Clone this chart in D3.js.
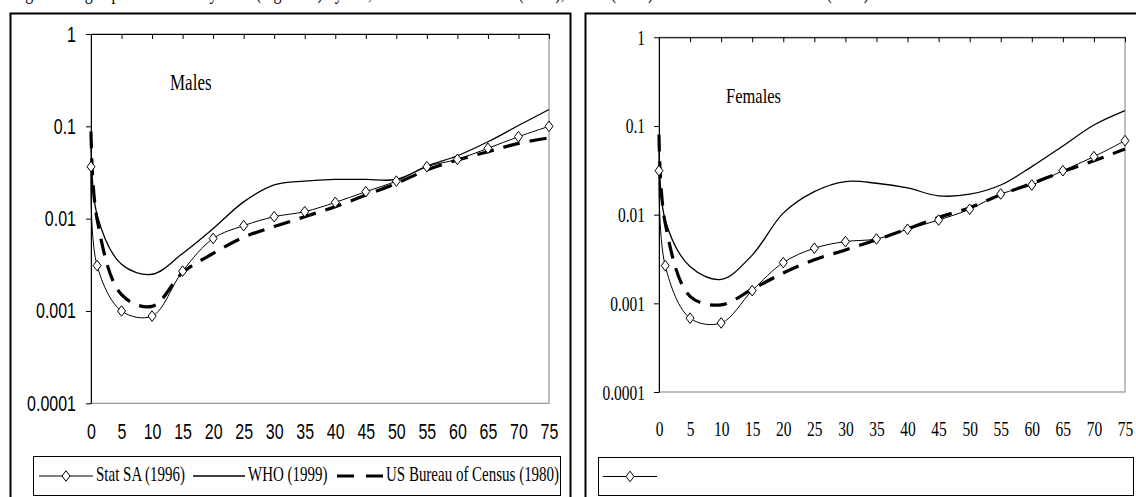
<!DOCTYPE html>
<html>
<head>
<meta charset="utf-8">
<script src="https://cdn.jsdelivr.net/npm/d3@7"></script>
<style>
  html, body { margin: 0; padding: 0; background: #fff; }
  svg { display: block; }
</style>
</head>
<body>
<svg id="chart" width="1136" height="497"></svg>
<script>
// ===== Data =====
const ages = [0, 1, 5, 10, 15, 20, 25, 30, 35, 40, 45, 50, 55, 60, 65, 70, 75];

const maleStatSA = [0.0365, 0.0031, 0.0010, 0.00088, 0.0027, 0.0061, 0.0084, 0.0105, 0.0119, 0.0150, 0.0196, 0.0255, 0.0365, 0.0439, 0.0578, 0.0772, 0.100];
const maleWHO    = [0.075, 0.011, 0.0032, 0.0025, 0.0042, 0.0078, 0.0152, 0.0232, 0.0255, 0.0266, 0.0266, 0.0266, 0.037, 0.048, 0.068, 0.102, 0.152];
const maleUS     = [0.088, 0.0098, 0.0015, 0.00112, 0.0026, 0.0042, 0.0063, 0.0082, 0.0105, 0.0135, 0.018, 0.0241, 0.0336, 0.0432, 0.053, 0.0654, 0.075];

const femaleStatSA = [0.0313, 0.00266, 0.00068, 0.00060, 0.00139, 0.00288, 0.00418, 0.00497, 0.00532, 0.00684, 0.0087, 0.0115, 0.0171, 0.0216, 0.0313, 0.0451, 0.0683];
const femaleWHO    = [0.07, 0.0087, 0.0026, 0.00186, 0.0035, 0.0104, 0.0182, 0.0236, 0.0226, 0.0200, 0.0163, 0.0170, 0.0216, 0.0348, 0.0595, 0.1026, 0.149];
const femaleUS     = [0.08, 0.008, 0.0012, 0.00096, 0.00144, 0.0022, 0.0031, 0.004, 0.0052, 0.0069, 0.0093, 0.012, 0.0168, 0.0225, 0.0305, 0.0405, 0.055];

const xTicks = [0, 5, 10, 15, 20, 25, 30, 35, 40, 45, 50, 55, 60, 65, 70, 75];
const yTicks = [0.0001, 0.001, 0.01, 0.1, 1];
const yTickLabels = ["0.0001", "0.001", "0.01", "0.1", "1"];

const seriesNames = ["Stat SA (1996)", "WHO (1999)", "US Bureau of Census (1980)"];
const caption = "Figure 4: Age-specific mortality rates (log scale) by sex, South Africa: Stat SA (1996), WHO (1999) and US Bureau of Census (1980)";

const STRETCH = 1.33;   // the picture is taller than wide, text too
const serif = "'Liberation Serif', 'Times New Roman', serif";
const sans = "'Liberation Sans', Arial, sans-serif";

const svg = d3.select("#chart");

// caption, cut by the top of the page (only the descenders show)
svg.append("text")
    .attr("transform", `translate(12,-1.5) scale(1,${STRETCH})`)
    .style("font-family", serif)
    .style("font-size", "16px")
    .text(caption);

const diamond = "M0,-5.3L4,0L0,5.3L-4,0Z";

function drawPanel(opt){
    const g = svg.append("g");

    // outer frame
    g.append("rect")
        .attr("x", opt.frame[0]).attr("y", opt.frame[1])
        .attr("width", opt.frame[2]).attr("height", opt.frame[3])
        .attr("fill", "none").attr("stroke", "#000").attr("stroke-width", 2);

    const x = d3.scaleLinear().domain([0, 75]).range([opt.left, opt.right]);
    const y = d3.scaleLog().domain([0.0001, 1]).range([opt.bottom, opt.top]);

    // plot area border (grey right/bottom)
    g.append("rect")
        .attr("x", opt.left).attr("y", opt.top)
        .attr("width", opt.right - opt.left).attr("height", opt.bottom - opt.top)
        .attr("fill", "none").attr("stroke", "#808080").attr("stroke-width", 1);

    // top axis line with ticks pointing down
    g.append("g")
        .attr("transform", `translate(0,${opt.top})`)
        .call(d3.axisBottom(x).tickValues(xTicks).tickSize(5).tickSizeOuter(0).tickFormat(""))
        .call(a => a.selectAll("line,path").attr("stroke", "#000"));

    // x labels at the bottom
    g.append("g")
        .attr("transform", `translate(0,${opt.bottom})`)
        .call(d3.axisBottom(x).tickValues(xTicks).tickSize(0).tickFormat(d => d))
        .call(a => a.select(".domain").remove())
        .call(a => a.selectAll("text")
            .attr("y", null).attr("dy", null)
            .attr("transform", `translate(0,${opt.xLabelBase}) scale(1,${STRETCH})`)
            .style("font-family", opt.tickFont)
            .style("font-size", opt.tickSize)
            .attr("fill", "#000"));

    // y axis
    g.append("g")
        .attr("transform", `translate(${opt.left},0)`)
        .call(d3.axisLeft(y).tickValues(yTicks).tickSize(5).tickSizeOuter(0)
            .tickFormat((d, i) => yTickLabels[i]))
        .call(a => a.selectAll("line,path").attr("stroke", "#000"))
        .call(a => a.selectAll("text")
            .attr("x", null).attr("dy", null)
            .attr("transform", `translate(${opt.yLabelX},7) scale(1,${STRETCH})`)
            .style("font-family", opt.tickFont)
            .style("font-size", opt.tickSize)
            .attr("fill", "#000"));

    // panel label
    g.append("text")
        .attr("transform", `translate(${opt.label[1]},${opt.label[2]}) scale(1,${STRETCH})`)
        .style("font-family", serif)
        .style("font-size", opt.label[3])
        .text(opt.label[0]);

    const line = d3.line()
        .x((d, i) => x(ages[i]))
        .y(d => y(d))
        .curve(d3.curveCatmullRom.alpha(0.5));

    // WHO
    g.append("path")
        .attr("d", line(opt.who))
        .attr("fill", "none").attr("stroke", "#000").attr("stroke-width", 1.3);

    // US Bureau of Census
    g.append("path")
        .attr("d", line(opt.us))
        .attr("fill", "none").attr("stroke", "#000").attr("stroke-width", 3.2)
        .attr("stroke-dasharray", "17,10");

    // Stat SA
    g.append("path")
        .attr("d", line(opt.statsa))
        .attr("fill", "none").attr("stroke", "#000").attr("stroke-width", 1);

    g.selectAll(".mk")
        .data(opt.statsa)
        .enter()
        .append("path")
        .attr("class", "mk")
        .attr("d", diamond)
        .attr("transform", (d, i) => `translate(${x(ages[i])},${y(d)})`)
        .attr("fill", "#fff").attr("stroke", "#000").attr("stroke-width", 1);

    // legend
    const lg = opt.legend;
    g.append("rect")
        .attr("x", lg.x0).attr("y", lg.y0)
        .attr("width", lg.x1 - lg.x0).attr("height", lg.y1 - lg.y0)
        .attr("fill", "#fff").attr("stroke", "#000").attr("stroke-width", 1);

    const ly = (lg.y0 + lg.y1) / 2;
    lg.items.forEach((it, k) => {
        const seg = g.append("line")
            .attr("x1", it.from).attr("x2", it.to)
            .attr("y1", ly).attr("y2", ly)
            .attr("stroke", "#000");
        if (k === 0) {
            seg.attr("stroke-width", 1);
            g.append("path").attr("d", diamond)
                .attr("transform", `translate(${(it.from + it.to) / 2},${ly})`)
                .attr("fill", "#fff").attr("stroke", "#000");
        } else if (k === 1) {
            seg.attr("stroke-width", 1.3);
        } else {
            seg.attr("stroke-width", 3.2).attr("stroke-dasharray", "17,12");
        }
        if (it.text) {
            g.append("text")
                .attr("transform", `translate(${it.to + 3},${ly + 4.5}) scale(1,${STRETCH})`)
                .style("font-family", serif)
                .style("font-size", "15px")
                .text(it.text);
        }
    });
}

drawPanel({
    frame: [10.5, 13.5, 560, 500],
    left: 91, right: 549, top: 34, bottom: 403.3,
    tickFont: sans, tickSize: "16px",
    xLabelBase: 36, yLabelX: -15,
    label: ["Males", 170, 90, "17px"],
    statsa: maleStatSA, who: maleWHO, us: maleUS,
    legend: {
        x0: 33.5, y0: 456.5, x1: 560.5, y1: 495.5,
        items: [
            {from: 39, to: 93, text: seriesNames[0]},
            {from: 193, to: 245, text: seriesNames[1]},
            {from: 337, to: 383, text: seriesNames[2]}
        ]
    }
});

drawPanel({
    frame: [585.5, 13.5, 600, 500],
    left: 659, right: 1125, top: 37.3, bottom: 392,
    tickFont: serif, tickSize: "15.5px",
    xLabelBase: 44, yLabelX: -14,
    label: ["Females", 726, 103, "16.5px"],
    statsa: femaleStatSA, who: femaleWHO, us: femaleUS,
    legend: {
        x0: 598.5, y0: 457.5, x1: 1133.5, y1: 495.5,
        items: [
            {from: 603, to: 657, text: null}
        ]
    }
});
</script>
</body>
</html>
